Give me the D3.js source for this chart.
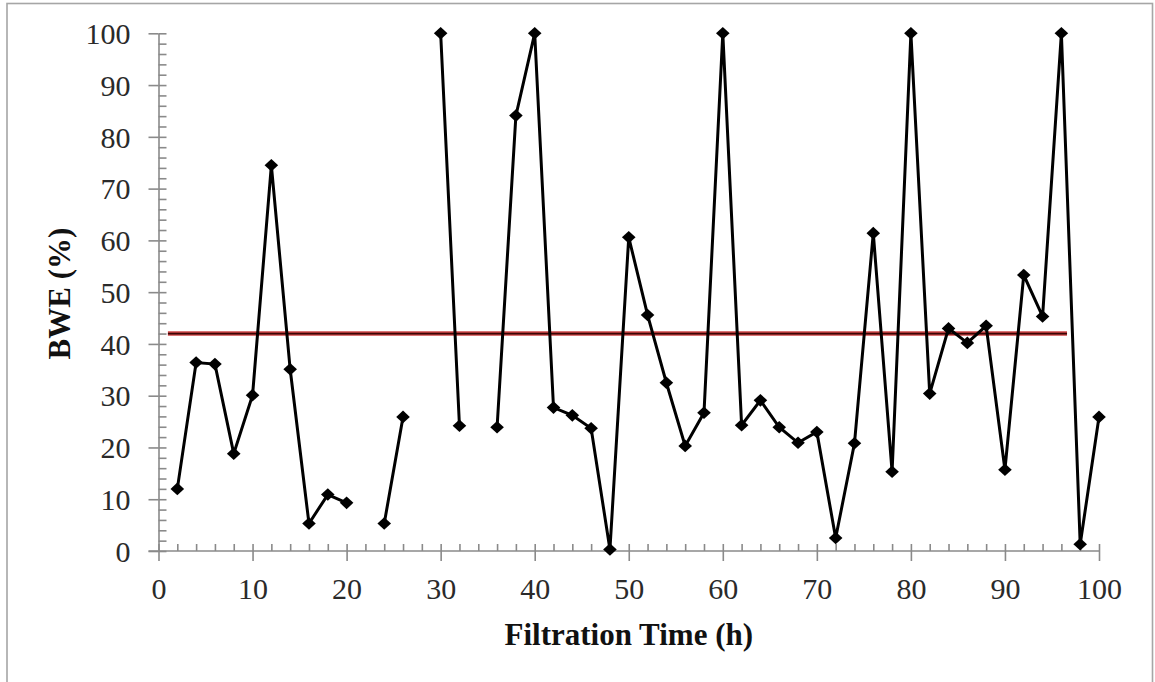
<!DOCTYPE html>
<html>
<head>
<meta charset="utf-8">
<script src="https://cdn.jsdelivr.net/npm/d3@7"></script>
<style>
  html, body { margin: 0; padding: 0; background: #fff; }
  svg { display: block; }
</style>
</head>
<body>
<svg id="chart" width="1155" height="682"></svg>
<script>
// ---- data ----
const hours = [2,4,6,8,10,12,14,16,18,20,null,24,26,null,30,32,null,36,38,40,42,44,46,48,50,52,54,56,58,60,62,64,66,68,70,72,74,76,78,80,82,84,86,88,90,92,94,96,98,100];
const bwe   = [12,36.4,36.1,18.8,30.1,74.5,35.1,5.3,10.9,9.3,null,5.3,25.9,null,100,24.2,null,23.9,84.1,100,27.7,26.2,23.7,0.3,60.6,45.6,32.5,20.3,26.7,100,24.3,29.1,23.9,20.9,23.0,2.5,20.8,61.4,15.3,100,30.4,43.0,40.2,43.5,15.7,53.3,45.3,100,1.3,25.9];
const meanX = [1, 96.6];
const meanY = [42, 42];
const xTicks = [0,10,20,30,40,50,60,70,80,90,100];
const yTicks = [0,10,20,30,40,50,60,70,80,90,100];
const minorTicks = d3.range(0, 101, 2);
const xTitle = "Filtration Time (h)";
const yTitle = "BWE (%)";

// ---- layout ----
const svg = d3.select("#chart");
const x = d3.scaleLinear().domain([0, 100]).range([158.5, 1099]);
const y = d3.scaleLinear().domain([0, 100]).range([551, 33.3]);
const axisColor = "#8a8a8a";
const font = "'Liberation Serif', 'Times New Roman', serif";

// outer frame
svg.append("rect").attr("x", 7).attr("y", 3.5).attr("width", 1145.5).attr("height", 700)
  .attr("fill", "none").attr("stroke", "#a6a6a6").attr("stroke-width", 1.6);

// minor ticks (inside)
const gxMinor = svg.append("g").attr("transform", `translate(0,${y(0)})`)
  .call(d3.axisBottom(x).tickValues(minorTicks).tickSize(-7).tickFormat(""));
const gyMinor = svg.append("g").attr("transform", `translate(${x(0)},0)`)
  .call(d3.axisLeft(y).tickValues(minorTicks).tickSize(-8).tickFormat(""));
// major ticks (outside)
const gx = svg.append("g").attr("transform", `translate(0,${y(0)})`)
  .call(d3.axisBottom(x).tickValues(xTicks).tickSize(10).tickSizeOuter(0).tickFormat(d3.format("d")));
const gy = svg.append("g").attr("transform", `translate(${x(0)},0)`)
  .call(d3.axisLeft(y).tickValues(yTicks).tickSize(10).tickSizeOuter(0).tickFormat(d3.format("d")));

[gxMinor, gyMinor, gx, gy].forEach(g => {
  g.selectAll("path.domain").attr("stroke", axisColor).attr("stroke-width", 1.6);
  g.selectAll(".tick line").attr("stroke", axisColor).attr("stroke-width", 1.6);
});
gxMinor.select("path.domain").remove();
gyMinor.select("path.domain").remove();
gx.select("path.domain").attr("d", `M${x(0)-10},0H${x(100)}`);

gx.selectAll(".tick text")
  .attr("font-family", font).attr("font-size", 30).attr("fill", "#2a2a2a")
  .attr("y", 47.5).attr("dy", null);
gy.selectAll(".tick text")
  .attr("font-family", font).attr("font-size", 30).attr("fill", "#2a2a2a")
  .attr("x", -28).attr("dy", "0.34em");

// mean line (red with dark core)
const meanLine = d3.line().x((d, i) => x(meanX[i])).y((d, i) => y(meanY[i]));
svg.append("path").datum(meanX).attr("d", meanLine)
  .attr("fill", "none").attr("stroke", "#d04848").attr("stroke-width", 4.5);
svg.append("path").datum(meanX).attr("d", meanLine)
  .attr("fill", "none").attr("stroke", "#3a0505").attr("stroke-width", 1.8);

// data line
const pts = hours.map((h, i) => ({h, v: bwe[i]}));
const line = d3.line().defined(d => d.h !== null && d.v !== null)
  .x(d => x(d.h)).y(d => y(d.v));
svg.append("path").datum(pts).attr("d", line)
  .attr("fill", "none").attr("stroke", "#000").attr("stroke-width", 3)
  .attr("stroke-linejoin", "miter");

// diamond markers
svg.append("g").selectAll("path").data(pts.filter(d => d.h !== null))
  .join("path")
  .attr("transform", d => `translate(${x(d.h)},${y(d.v)})`)
  .attr("d", "M0,-6.3L6.8,0L0,6.3L-6.8,0Z")
  .attr("fill", "#000");

// axis titles
svg.append("text").attr("x", (x(0) + x(100)) / 2).attr("y", 645)
  .attr("text-anchor", "middle").attr("font-family", font).attr("font-weight", "bold")
  .attr("font-size", 31).attr("fill", "#111").text(xTitle);
svg.append("text").attr("transform", "translate(70,293.5) rotate(-90)")
  .attr("text-anchor", "middle").attr("font-family", font).attr("font-weight", "bold")
  .attr("font-size", 31).attr("fill", "#111").text(yTitle);
</script>
</body>
</html>
